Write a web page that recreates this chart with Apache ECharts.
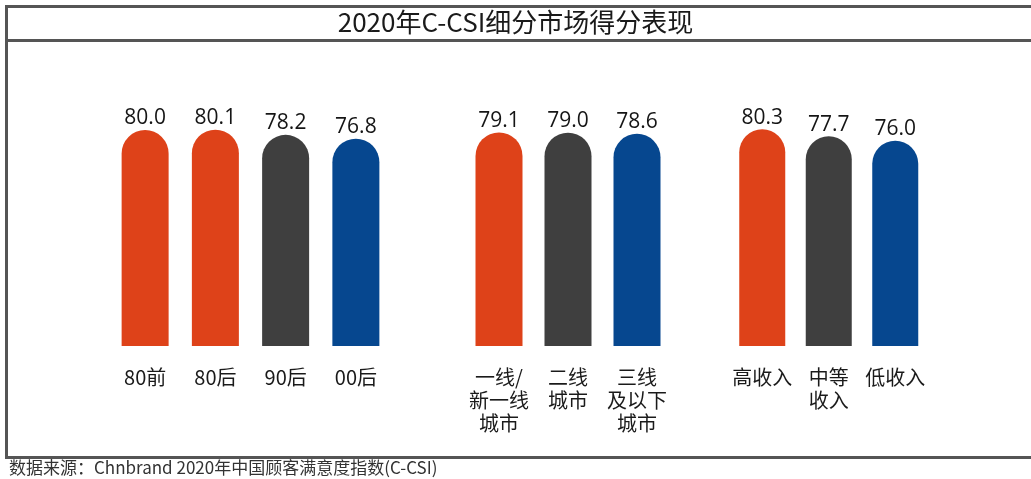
<!DOCTYPE html>
<html>
<head>
<meta charset="utf-8">
<script src="https://cdn.jsdelivr.net/npm/echarts@6/dist/echarts.min.js"></script>
<style>
html,body{margin:0;padding:0;background:#fff;}
#chart{width:1031px;height:479px;}
</style>
</head>
<body>
<div id="chart"></div>
<script>
// ---- data ----
const titleText = '2020年C-CSI细分市场得分表现';
const sourceText = '数据来源：Chnbrand 2020年中国顾客满意度指数(C-CSI)';

const ageCategories = ['80前', '80后', '90后', '00后'];
const ageValues = [80.0, 80.1, 78.2, 76.8];

const cityCategories = ['一线/\n新一线\n城市', '二线\n城市', '三线\n及以下\n城市'];
const cityValues = [79.1, 79.0, 78.6];

const incomeCategories = ['高收入', '中等\n收入', '低收入'];
const incomeValues = [80.3, 77.7, 76.0];

// ---- style ----
const ORANGE = '#DE4219', GRAY = '#3F3F3F', BLUE = '#06478F';
const groups = [
  {cats: ageCategories, vals: ageValues, colors: [ORANGE, ORANGE, GRAY, BLUE], left: 110, width: 281, barW: 47},
  {cats: cityCategories, vals: cityValues, colors: [ORANGE, GRAY, BLUE], left: 464.5, width: 207, barW: 47},
  {cats: incomeCategories, vals: incomeValues, colors: [ORANGE, GRAY, BLUE], left: 729, width: 199.5, barW: 46}
];

const FONT = '"Noto Sans CJK SC","Open Sans",sans-serif';
const grids = [], xAxes = [], yAxes = [], series = [];
groups.forEach((g, i) => {
  grids.push({left: g.left, width: g.width, top: 76, bottom: 133});
  xAxes.push({
    type: 'category', gridIndex: i, data: g.cats,
    axisLine: {show: false}, axisTick: {show: false},
    axisLabel: {margin: 20, fontSize: 20, lineHeight: 23, color: '#1a1a1a', fontFamily: FONT, interval: 0}
  });
  yAxes.push({type: 'value', gridIndex: i, min: 0, max: 100, show: false, splitLine: {show: false}});
  series.push({
    type: 'bar', xAxisIndex: i, yAxisIndex: i, barWidth: g.barW,
    data: g.vals.map((v, j) => ({value: v, itemStyle: {color: g.colors[j]}})),
    itemStyle: {borderRadius: [g.barW / 2, g.barW / 2, 0, 0]},
    label: {show: true, position: 'top', distance: 1, fontSize: 21, color: '#151515',
      fontFamily: '"Open Sans",sans-serif', formatter: p => p.value.toFixed(1)}
  });
});

const LINE = '#555555';
const chart = echarts.init(document.getElementById('chart'), null, {renderer: 'canvas'});
chart.setOption({
  backgroundColor: '#ffffff',
  animation: false,
  grid: grids, xAxis: xAxes, yAxis: yAxes, series: series,
  graphic: [
    {type: 'line', shape: {x1: 5, y1: 6.5, x2: 1031, y2: 6.5}, style: {stroke: LINE, lineWidth: 3}},
    {type: 'line', shape: {x1: 6.5, y1: 5, x2: 6.5, y2: 459}, style: {stroke: LINE, lineWidth: 3}},
    {type: 'line', shape: {x1: 5, y1: 40.5, x2: 1031, y2: 40.5}, style: {stroke: LINE, lineWidth: 3}},
    {type: 'line', shape: {x1: 5, y1: 457.5, x2: 1031, y2: 457.5}, style: {stroke: LINE, lineWidth: 3}},
    {type: 'text', left: 'center', top: 9, style: {text: titleText, fontSize: 26, fill: '#1a1a1a', fontFamily: FONT}},
    {type: 'text', left: 9, top: 459, style: {text: sourceText, fontSize: 17, fill: '#333', fontFamily: FONT}}
  ]
});
</script>
</body>
</html>
